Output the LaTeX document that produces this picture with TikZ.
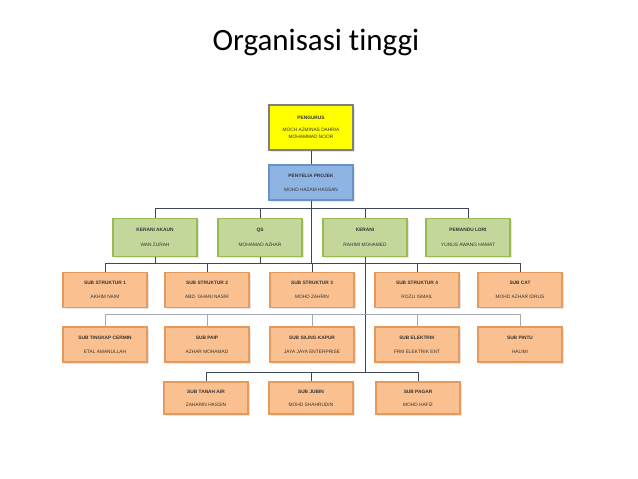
\documentclass[tikz,border=0pt]{standalone}
\usepackage{fontspec}
\setmainfont{Liberation Sans}
\newfontfamily\titlefont[Ligatures=NoCommon]{Carlito}
\usetikzlibrary{shadows}
\definecolor{yfill}{HTML}{FFFF00}
\definecolor{ydraw}{HTML}{7F7F7F}
\definecolor{bfill}{HTML}{8EB4E3}
\definecolor{bdraw}{HTML}{6A92C4}
\definecolor{gfill}{HTML}{C4D79B}
\definecolor{gdraw}{HTML}{98B954}
\definecolor{ofill}{HTML}{FAC08F}
\definecolor{odraw}{HTML}{E39A5C}
\definecolor{wire}{HTML}{3E4756}
\definecolor{softwire}{HTML}{A3ABB8}

\begin{document}
\begin{tikzpicture}
[x=1pt,y=-1pt]
\tikzset{box/.style={rectangle,draw,line width=1.3pt,minimum width=84pt,align=center,
  font=\fontsize{4.8}{5}\selectfont,text=black!80,inner sep=1pt,
  drop shadow={opacity=0.2,shadow xshift=1.5pt,shadow yshift=-1.5pt}}}
\tikzset{boss/.style={box,fill=yfill,draw=ydraw,minimum height=45pt}}
\tikzset{lead/.style={box,fill=bfill,draw=bdraw,minimum height=35pt}}
\tikzset{staff/.style={box,fill=gfill,draw=gdraw,minimum height=38pt}}
\tikzset{sub/.style={box,fill=ofill,draw=odraw,minimum height=35pt}}
\tikzset{link/.style={draw=wire,line width=0.9pt}}
\useasboundingbox (0,0) rectangle (638,479);

\node [anchor=base,font=\titlefont\fontsize{31}{36}\selectfont] (title) at (316,50) {Organisasi tinggi};

\node [boss] (n1) at (311,127.5) {\textbf{PENGURUS}\\[7pt]MOCH AZMINAS DAHRIA\\[2pt]MOHAMMAD NOOR};
\node [lead] (n2) at (311,182.5) {\textbf{PENYELIA PROJEK}\\[9pt]MOHD HAZAM HASSAN};

\node [staff] (n3) at (155,237.5) {\textbf{KERANI AKAUN}\\[10pt]WAN ZURAH};
\node [staff] (n4) at (260,237.5) {\textbf{QS}\\[10pt]MOHAMAD AZHAR};
\node [staff] (n5) at (365,237.5) {\textbf{KERANI}\\[10pt]RAHIMI MOHAMED};
\node [staff] (n6) at (468,237.5) {\textbf{PEMANDU LORI}\\[10pt]YUNUS AWANG HAMAT};

\node [sub] (n7) at (105,290) {\textbf{SUB STRUKTUR 1}\\[9pt]AKHIM NAIM};
\node [sub] (n8) at (207,290) {\textbf{SUB STRUKTUR 2}\\[9pt]ABD. GHANI NASIR};
\node [sub] (n9) at (312,290) {\textbf{SUB STRUKTUR 3}\\[9pt]MOHD ZAHRIN};
\node [sub] (n10) at (417,290) {\textbf{SUB STRUKTUR 4}\\[9pt]ROZLI ISMAIL};
\node [sub] (n11) at (520,290) {\textbf{SUB CAT}\\[9pt]MOHD AZHAR IDRUS};

\node [sub] (n12) at (105,344.5) {\textbf{SUB TINGKAP CERMIN}\\[9pt]ETAL AMANULLAH};
\node [sub] (n13) at (207,344.5) {\textbf{SUB PAIP}\\[9pt]AZHAR MOHAMAD};
\node [sub] (n14) at (312,344.5) {\textbf{SUB SILING KAPUR}\\[9pt]JAYA JAYA ENTERPRISE};
\node [sub] (n15) at (417,344.5) {\textbf{SUB ELEKTRIK}\\[9pt]FRM ELEKTRIK ENT};
\node [sub] (n16) at (520,344.5) {\textbf{SUB PINTU}\\[9pt]HALIMI};

\node [sub,minimum height=32pt] (n17) at (206,398) {\textbf{SUB TANAH AIR}\\[8pt]ZAHARIN HASSIN};
\node [sub,minimum height=32pt] (n18) at (311,398) {\textbf{SUB JUBIN}\\[8pt]MOHD SHAHRUDIN};
\node [sub,minimum height=32pt] (n19) at (418,398) {\textbf{SUB PAGAR}\\[8pt]MOHD HAFIZ};

% bus lines
\coordinate (b1) at (0,208);
\coordinate (b2) at (0,263);
\coordinate (b3) at (0,314);
\coordinate (b4) at (0,372);

\draw [link] (n1) -- (n2);
\foreach \to in {n3,n4,n5,n6}
	\draw [link] (n2.south) |- (b1 -| \to) -- (\to.north);
\draw [link] (n2.south) -- (n2.south |- b2);
\foreach \from in {n3,n4}
	\draw [link] (\from.south) -- (\from.south |- b2);
\draw [link] (b2 -| n7) -- (b2 -| n11);
\foreach \to in {n7,n8,n9,n10,n11}
	\draw [link] (b2 -| \to) -- (\to.north);
\draw [link] (n5.south) -- (n5.south |- b4);
\draw [link,draw=softwire] (b3 -| n12) -- (b3 -| n16);
\foreach \to in {n12,n13,n14,n15,n16}
	\draw [link,draw=softwire] (b3 -| \to) -- (\to.north);
\draw [link] (b4 -| n17) -- (b4 -| n19);
\foreach \to in {n17,n18,n19}
	\draw [link] (b4 -| \to) -- (\to.north);

\end{tikzpicture}
\end{document}
